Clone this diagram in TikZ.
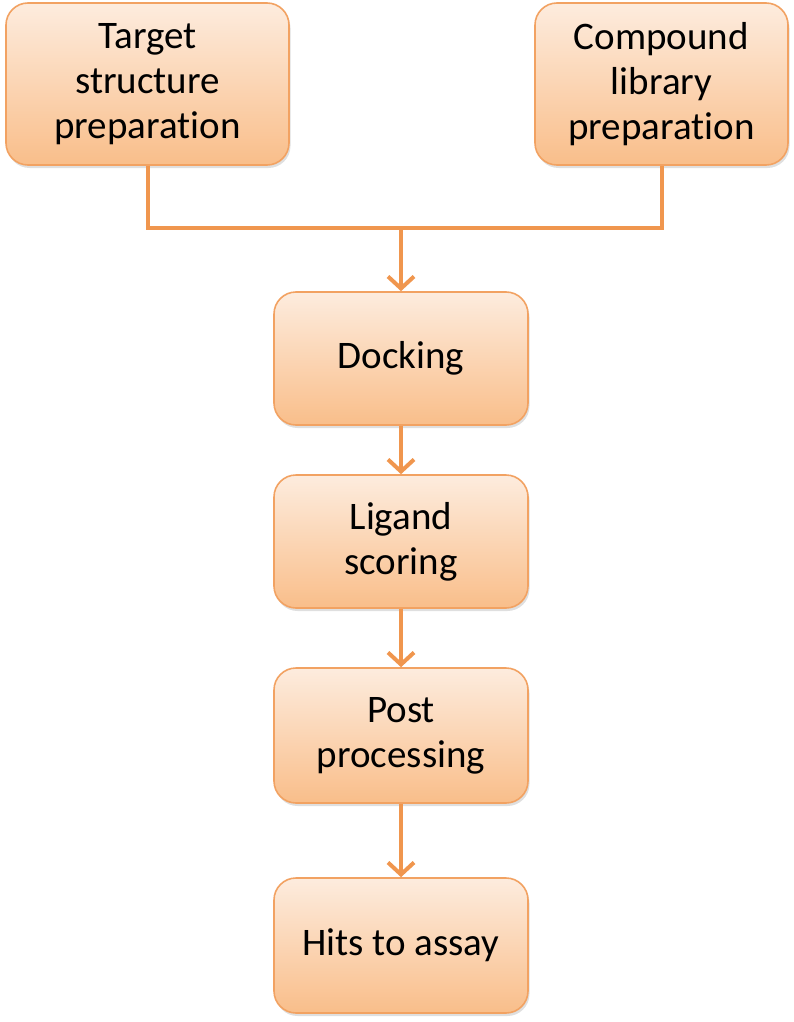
\documentclass[tikz,border=0pt]{standalone}
\usepackage{fontspec}
\setmainfont{Carlito}[Ligatures=NoCommon]
\usepackage{tikz}
\usetikzlibrary{arrows.meta}
\usetikzlibrary{shadows}

\definecolor{boxtop}{RGB}{253,236,222}
\definecolor{boxbottom}{RGB}{249,190,138}
\definecolor{boxline}{RGB}{242,162,98}
\definecolor{linkline}{RGB}{240,150,78}

\begin{document}
\begin{tikzpicture}[
  x=1pt, y=-1pt,
  stage/.style={draw=boxline, line width=1.6pt, rectangle, rounded corners=22pt,
    top color=boxtop, bottom color=boxbottom, align=center,
    font=\fontsize{39}{45}\selectfont,
    drop shadow={shadow xshift=1.5pt, shadow yshift=-3pt, opacity=0.25}},
  link/.style={draw=linkline, line width=4pt},
  arr/.style={link, -{Straight Barb[length=12pt, width=26pt]}},
]

\useasboundingbox (0,0) rectangle (793,1022);

% inputs
\node (target) [stage, minimum width=283pt, minimum height=162pt] at (147.5,84)
  {Target\\structure\\preparation};
\node (compound) [stage, minimum width=253pt, minimum height=162pt] at (661.5,84)
  {Compound\\library\\preparation};

% pipeline
\node (docking) [stage, minimum width=254pt, minimum height=133pt] at (401,358.5) {Docking};
\node (scoring) [stage, minimum width=254pt, minimum height=133pt] at (401,541.5) {Ligand\\scoring};
\node (post) [stage, minimum width=254pt, minimum height=135pt] at (401,735.5) {Post\\processing};
\node (hits) [stage, minimum width=254pt, minimum height=135pt] at (401,945.5) {Hits to assay};

\coordinate (merge) at (401,228);

\draw[link] (target.south) |- (merge) -| (compound.south);
\draw[arr] (merge) -- (docking.north);

\foreach \a/\b in {docking/scoring, scoring/post, post/hits} {
  \draw[arr] (\a.south) -- (\b.north);
}

\end{tikzpicture}
\end{document}
